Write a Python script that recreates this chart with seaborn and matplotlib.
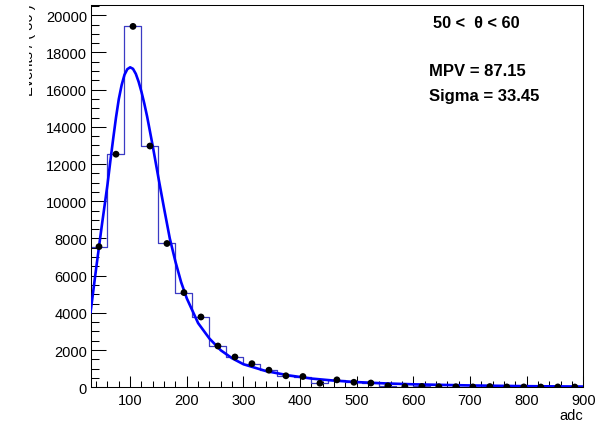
import numpy as np
import pandas as pd
import matplotlib
matplotlib.use("Agg")
import matplotlib.pyplot as plt
from matplotlib.ticker import MultipleLocator
from matplotlib.transforms import Bbox
import seaborn as sns

# ---- data ----
bin_edges = list(range(30, 901, 30))
bin_centers = [45, 75, 105, 135, 165, 195, 225, 255, 285, 315, 345, 375, 405, 435, 465,
               495, 525, 555, 585, 615, 645, 675, 705, 735, 765, 795, 825, 855, 885]
counts = [7560, 12530, 19400, 12970, 7730, 5090, 3780, 2220, 1630, 1270, 920, 620, 580, 220, 400,
          270, 230, 80, 40, 45, 30, 30, 20, 40, 20, 20, 15, 20, 15]

fit_x = [30, 40, 50, 60, 65, 70, 75, 80, 85, 90, 95, 100, 105, 110, 115, 120, 125, 130, 140,
         150, 160, 170, 180, 190, 200, 220, 240, 260, 280, 300, 340, 380, 420, 460, 500, 550,
         600, 700, 800, 900]
fit_y = [4000, 6400, 8700, 10900, 12150, 13350, 14500, 15500, 16250, 16800, 17100, 17200, 17120,
         16850, 16420, 15880, 15250, 14550, 12950, 11250, 9600, 8000, 6750, 5650, 4780, 3450,
         2620, 1990, 1560, 1240, 870, 640, 470, 360, 280, 210, 160, 100, 60, 40]

title_text = "50 <  \u03b8 < 60"
stat_lines = ["MPV = 87.15", "Sigma = 33.45"]
x_label = "adc"
y_label = "Events / ( 30 )"

# ---- style ----
sns.set_style("ticks")
plt.rcParams["font.family"] = ["Liberation Sans", "DejaVu Sans"]
plt.rcParams["text.color"] = "black"
plt.rcParams["axes.labelcolor"] = "black"
plt.rcParams["xtick.color"] = "black"
plt.rcParams["ytick.color"] = "black"

W, H = 603, 427
fig = plt.figure(figsize=(W / 100, H / 100), dpi=100)
ax = fig.add_axes([90.5 / W, 1 - 388.3 / H, (583.3 - 90.5) / W, (388.3 - 6) / H])

hist_df = pd.DataFrame({"x": bin_centers, "w": counts})
sns.histplot(data=hist_df, x="x", weights="w", bins=bin_edges, element="step", fill=False,
             color="#3b3bc4", linewidth=0.9, ax=ax)

pts_df = pd.DataFrame({"x": bin_centers, "y": counts})
sns.scatterplot(data=pts_df, x="x", y="y", color="black", s=24, edgecolor="none", ax=ax, zorder=5)

fit_df = pd.DataFrame({"x": fit_x, "y": fit_y})
sns.lineplot(data=fit_df, x="x", y="y", color="#0000ff", linewidth=1.9, ax=ax, zorder=4)

ax.set_xlim(30, 900)
ax.set_ylim(0, 20550)

ax.xaxis.set_major_locator(MultipleLocator(100))
ax.xaxis.set_minor_locator(MultipleLocator(20))
ax.yaxis.set_major_locator(MultipleLocator(2000))
ax.yaxis.set_minor_locator(MultipleLocator(500))
ax.tick_params(axis="both", which="both", direction="in", width=0.75, colors="black",
               labelcolor="black", labelsize=10.5)
ax.tick_params(axis="x", which="major", length=8, pad=4)
ax.tick_params(axis="x", which="minor", length=4.3)
ax.tick_params(axis="y", which="major", length=10.8, pad=2.5)
ax.tick_params(axis="y", which="minor", length=5.8)

for s in ax.spines.values():
    s.set_visible(True)
    s.set_linewidth(0.75)
    s.set_color("black")

ax.set_xlabel(x_label, loc="right", fontsize=10.5, labelpad=1, color="black")
ax.set_ylabel("")

# annotations
fig.text(476 / W, 1 - 23 / H, title_text, ha="center", va="center", fontsize=11.8,
         fontweight="bold", color="black")
fig.text(429 / W, 1 - 72 / H, stat_lines[0], ha="left", va="center", fontsize=12,
         fontweight="bold", color="black")
fig.text(429 / W, 1 - 96 / H, stat_lines[1], ha="left", va="center", fontsize=12,
         fontweight="bold", color="black")

# y label mostly outside the visible canvas, as in the reference
yl = fig.text(36 / W, 1 - 4 / H, y_label, rotation=90, ha="right", va="top", fontsize=10.5,
              color="black")
yl.set_clip_box(Bbox.from_extents(29, 0, 40, H))
yl.set_clip_on(True)

fig.savefig("out.png", dpi=100)
